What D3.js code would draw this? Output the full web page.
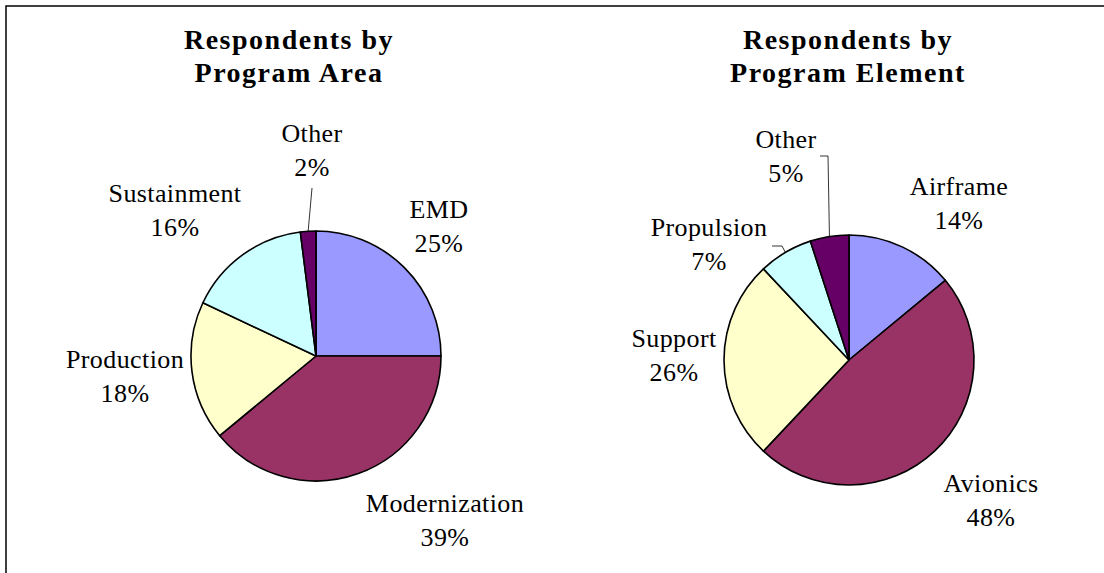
<!DOCTYPE html>
<html>
<head>
<meta charset="utf-8">
<script src="https://cdn.jsdelivr.net/npm/d3@7/dist/d3.min.js"></script>
<style>
  body { margin: 0; background: #fff; }
  svg text { font-family: "Liberation Serif", "Times New Roman", serif; fill: #000; }
</style>
</head>
<body>
<svg id="canvas" width="1104" height="573"></svg>
<script>
// data
const areaLabels = ["EMD", "Modernization", "Production", "Sustainment", "Other"]
const areaValues = [25, 39, 18, 16, 2]
const elementLabels = ["Airframe", "Avionics", "Support", "Propulsion", "Other"]
const elementValues = [14, 48, 26, 7, 5]
const sliceColors = ["#9999FF", "#993366", "#FFFFCC", "#CCFFFF", "#660066"]

const svg = d3.select('#canvas')

// outer frame (right / bottom run off the picture)
svg.append('rect')
    .attr('x', 6).attr('y', 6)
    .attr('width', 1120).attr('height', 600)
    .attr('fill', 'none')
    .attr('stroke', '#000')
    .attr('stroke-width', 1.5)

const radius = 125

// label anchors relative to pie centre: [x, first baseline]
const pies = [
    {
        title: ["Respondents by", "Program Area"],
        titleX: 289,
        cx: 316, cy: 356,
        labels: areaLabels, values: areaValues,
        labelPos: [[123, -138], [129, 156], [-191, 12], [-141, -154], [-4, -214]],
        leaders: {4: [[-4, -168]]}
    },
    {
        title: ["Respondents by", "Program Element"],
        titleX: 848,
        cx: 849, cy: 360,
        labels: elementLabels, values: elementValues,
        labelPos: [[110, -165], [142, 132], [-175, -13], [-140, -124], [-63, -212]],
        leaders: {3: [[-77, -114], [-67, -114]], 4: [[-29, -204], [-21, -204]]}
    }
]

const pie = d3.pie().sort(null).value(d => d)
const arc = d3.arc().innerRadius(0).outerRadius(radius)
const edge = d3.arc().innerRadius(radius).outerRadius(radius)

pies.forEach(p => {
    const g = svg.append('g').attr('transform', `translate(${p.cx},${p.cy})`)
    const arcs = pie(p.values)

    g.selectAll('path.slice')
        .data(arcs)
        .enter()
        .append('path')
        .attr('class', 'slice')
        .attr('d', arc)
        .attr('fill', (d, i) => sliceColors[i])
        .attr('stroke', '#000')
        .attr('stroke-width', 1.6)
        .attr('stroke-linejoin', 'round')

    // leader lines
    Object.keys(p.leaders).forEach(k => {
        const pts = p.leaders[k].slice()
        pts.push(edge.centroid(arcs[+k]))
        g.append('path')
            .attr('d', d3.line()(pts))
            .attr('fill', 'none')
            .attr('stroke', '#000')
            .attr('stroke-width', 0.8)
    })

    const lab = g.selectAll('text.lab')
        .data(arcs)
        .enter()
        .append('text')
        .attr('class', 'lab')
        .attr('text-anchor', 'middle')
        .style('font-size', '26px')
        .style('letter-spacing', '0.4px')
    lab.append('tspan')
        .attr('x', (d, i) => p.labelPos[i][0])
        .attr('y', (d, i) => p.labelPos[i][1])
        .text((d, i) => p.labels[i])
    lab.append('tspan')
        .attr('x', (d, i) => p.labelPos[i][0])
        .attr('y', (d, i) => p.labelPos[i][1] + 34)
        .text(d => d.data + '%')

    const t = svg.append('text')
        .attr('text-anchor', 'middle')
        .style('font-size', '28px')
        .style('font-weight', 'bold')
        .style('letter-spacing', '1.5px')
    p.title.forEach((line, i) => {
        t.append('tspan')
            .attr('x', p.titleX)
            .attr('y', 49 + i * 33)
            .text(line)
    })
})
</script>
</body>
</html>
